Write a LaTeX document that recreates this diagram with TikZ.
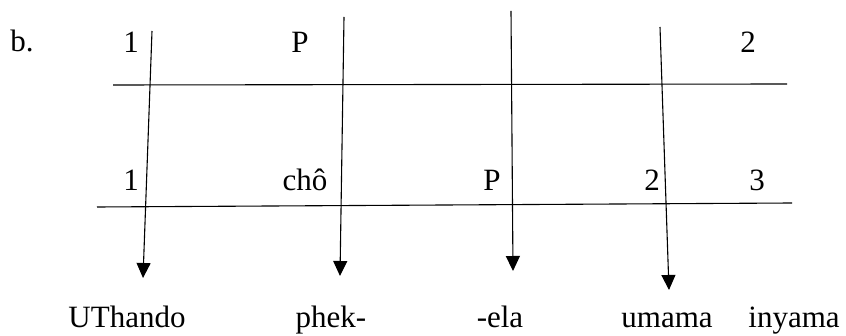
\documentclass[tikz,border=0pt]{standalone}
\usepackage{fontspec}
\setmainfont{Liberation Serif}
\usetikzlibrary{arrows.meta}
\begin{document}
\begin{tikzpicture}[x=1pt,y=-1pt,
  lbl/.style={anchor=base,inner sep=0pt,font=\fontsize{31}{36}\selectfont},
  rule/.style={line width=1.1pt},
  link/.style={line width=1.1pt,-{Triangle[width=14pt,length=15pt]}}]
\useasboundingbox (0,0) rectangle (846,336);
% labels
\node[lbl] (b) at (22,52) {b.};
\node[lbl] (t1) at (131,53) {1};
\node[lbl] (tP) at (300,53) {P};
\node[lbl] (t2) at (748,53) {2};
\node[lbl] (m1) at (131,191) {1};
\node[lbl] (mcho) at (305,191) {chô};
\node[lbl] (mP) at (492,191) {P};
\node[lbl] (m2) at (652,191) {2};
\node[lbl] (m3) at (757,191) {3};
\node[lbl] (w1) at (127,328) {UThando};
\node[lbl] (w2) at (331,328) {phek-};
\node[lbl] (w3) at (500,328) {-ela};
\node[lbl] (w4) at (667,328) {umama};
\node[lbl] (w5) at (794,328) {inyama};
% horizontal rules
\coordinate (r1a) at (113,85);
\coordinate (r1b) at (787,84);
\coordinate (r2a) at (97,207);
\coordinate (r2b) at (792,203);
\draw[rule] (r1a) -- (r1b);
\draw[rule] (r2a) -- (r2b);
% arrows
\coordinate (a1s) at (152,31);  \coordinate (a1e) at (143,278);
\coordinate (a2s) at (344,17);  \coordinate (a2e) at (340,276);
\coordinate (a3s) at (511,11);  \coordinate (a3e) at (513,271);
\coordinate (a4s) at (660,27);  \coordinate (a4e) at (669,290);
\draw[link] (a1s) -- (a1e);
\draw[link] (a2s) -- (a2e);
\draw[link] (a3s) -- (a3e);
\draw[link] (a4s) -- (a4e);
\end{tikzpicture}
\end{document}
